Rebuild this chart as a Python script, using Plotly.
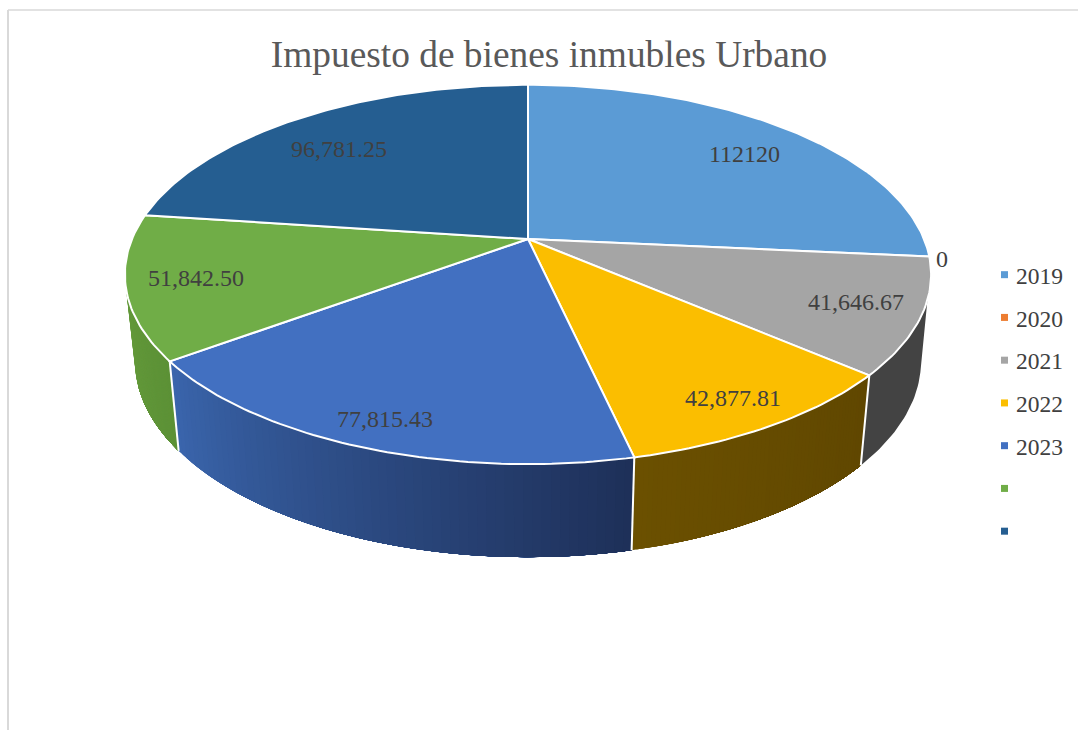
import math
import plotly.graph_objects as go

TITLE = "Impuesto de bienes inmubles Urbano"
YEARS = ["2019", "2020", "2021", "2022", "2023", " ", "  "]
VALUES = [112120, 0, 41646.67, 42877.81, 77815.43, 51842.50, 96781.25]
VALUE_TEXT = ["112120", "0", "41,646.67", "42,877.81", "77,815.43", "51,842.50", "96,781.25"]
COLORS = ["#5B9BD5", "#ED7D31", "#A5A5A5", "#FBBE00", "#4270C1", "#70AD47", "#255E91"]
WALL_LEFT = ["#5B9BD5", "#ED7D31", "#434343", "#6B5000", "#3A65AC", "#649A3B", "#255E91"]
WALL_RIGHT = ["#5B9BD5", "#ED7D31", "#434343", "#604700", "#1E3059", "#5C9136", "#255E91"]

FONT = "Liberation Serif"
TEXT = "#404040"
W, H = 1078, 730

# projection of the pie disc onto the page (axis units are page pixels)
CX, CY, RX, RY, K = 528.0, 239.0, 396.0, 183.0, 0.187
X_SHRINK, DROP, Y_GROW = 0.975, 85.4, 1.034
# angles at which the side wall leaves the silhouette of the disc
VIS_R_TOP, VIS_R_BOT = 108.3, 104.0
VIS_L_TOP, VIS_L_BOT = 251.7, 256.0

LABEL_XY = [(744, 153.5), (942, 259), (856, 302), (733, 398), (385, 419), (196, 278), (339, 149)]


def top(theta):
    t = math.radians(theta)
    u, v = math.sin(t), math.cos(t)
    s = 1 / (1 + K * v)
    return CX + RX * u * s, CY - RY * v * s


def bottom(theta):
    x, y = top(theta)
    return CX + X_SHRINK * (x - CX), CY + DROP + Y_GROW * (y - CY)


def arc(a, b, fn, step=1.0):
    n = max(2, int(abs(b - a) / step) + 2)
    return [fn(a + (b - a) * i / (n - 1)) for i in range(n)]


def lerp_hex(c1, c2, f):
    a = [int(c1[i:i + 2], 16) for i in (1, 3, 5)]
    b = [int(c2[i:i + 2], 16) for i in (1, 3, 5)]
    return "#%02X%02X%02X" % tuple(round(p + (q - p) * f) for p, q in zip(a, b))


total = sum(VALUES)
edges = [0.0]
for val in VALUES:
    edges.append(edges[-1] + val / total * 360)

fig = go.Figure()


def poly(pts, fill, line=None, width=0.0):
    fig.add_trace(go.Scatter(
        x=[p[0] for p in pts], y=[p[1] for p in pts], mode="lines", fill="toself",
        fillcolor=fill, line=dict(color=line or fill, width=width),
        hoverinfo="skip", showlegend=False))


def seg(p, q):
    fig.add_trace(go.Scatter(
        x=[p[0], q[0]], y=[p[1], q[1]], mode="lines",
        line=dict(color="white", width=2), hoverinfo="skip", showlegend=False))


# side walls: each gradient step repaints everything from its start to the
# slice's far end, starting at the high-angle (left) side, so no seams appear
for i, val in enumerate(VALUES):
    a, b = edges[i], edges[i + 1]
    lo, hi = max(a, VIS_R_BOT), min(b, VIS_L_BOT)
    if val == 0 or hi <= lo:
        continue
    strips = 60 if WALL_LEFT[i] != WALL_RIGHT[i] else 1
    for k in range(strips):
        t1 = hi - (hi - lo) * k / strips
        f = k / max(1, strips - 1)
        col = lerp_hex(WALL_LEFT[i], WALL_RIGHT[i], f)
        top_a = VIS_R_TOP if lo == VIS_R_BOT else lo
        top_b = VIS_L_TOP if t1 == VIS_L_BOT else t1
        pts = arc(top_a, top_b, top) + arc(t1, lo, bottom)
        poly(pts + [pts[0]], col)

# white seams between the walls
for e in edges[1:-1]:
    if VIS_R_BOT < e < VIS_L_BOT:
        seg(top(e), bottom(e))

# top faces
for i, val in enumerate(VALUES):
    if val == 0:
        continue
    a, b = edges[i], edges[i + 1]
    pts = [(CX, CY)] + arc(a, b, top) + [(CX, CY)]
    poly(pts, COLORS[i], "white", 2)

# legend entries
for name, col in zip(YEARS, COLORS):
    fig.add_trace(go.Scatter(
        x=[None], y=[None], mode="markers", name=name, legendgroup=name,
        marker=dict(symbol="square", size=7, color=col), showlegend=True))

anns = [dict(x=x, y=y, text=t, showarrow=False, xref="x", yref="y",
             xanchor="center", yanchor="middle",
             font=dict(family=FONT, size=24, color=TEXT))
        for t, (x, y) in zip(VALUE_TEXT, LABEL_XY)]

FRAME = "#D9D9D9"
shapes = [
    dict(type="line", xref="x", yref="y", x0=8, x1=8, y0=10, y1=H, line=dict(color=FRAME, width=2)),
    dict(type="line", xref="x", yref="y", x0=8, x1=W, y0=10, y1=10, line=dict(color=FRAME, width=1.5)),
]

fig.update_layout(
    width=W, height=H, margin=dict(l=0, r=0, t=0, b=0),
    paper_bgcolor="white", plot_bgcolor="white",
    title=dict(text=TITLE, x=549 / W, y=1 - 54 / H, xanchor="center", yanchor="middle",
               xref="paper", yref="paper",
               font=dict(family=FONT, size=37.4, color="#595959")),
    xaxis=dict(range=[0, W], visible=False, fixedrange=True),
    yaxis=dict(range=[H, 0], visible=False, fixedrange=True),
    legend=dict(x=976 / W, y=1 - 403.4 / H, xanchor="left", yanchor="middle", tracegroupgap=9.2,
                font=dict(family=FONT, size=23.5, color=TEXT), bgcolor="rgba(0,0,0,0)"),
    annotations=anns, shapes=shapes, showlegend=True,
)

post = """
document.body.style.margin='0';document.body.style.overflow='hidden';
document.querySelectorAll('.legendsymbols').forEach(function(g){g.setAttribute('transform','translate(8.5,0)');});
"""
fig.write_html("out.html", config=dict(displayModeBar=False), post_script=post)
